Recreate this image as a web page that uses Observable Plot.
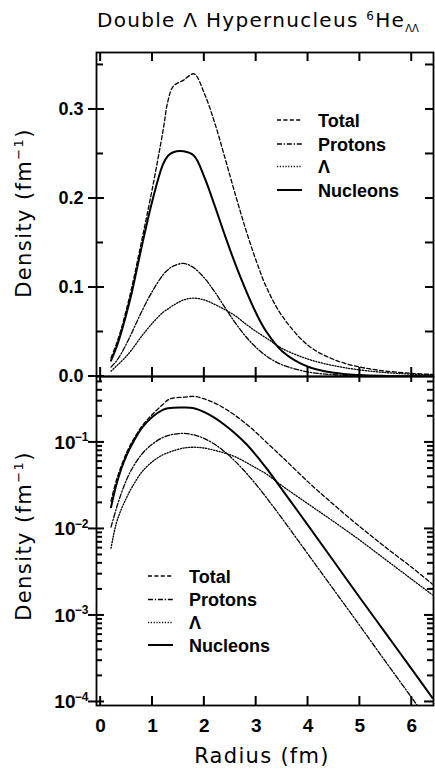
<!DOCTYPE html>
<html><head><meta charset="utf-8">
<script src="https://cdn.jsdelivr.net/npm/d3@7"></script>
<script src="https://cdn.jsdelivr.net/npm/@observablehq/plot@0.6"></script>
<style>
body{margin:0;background:#fff;}
#wrap{position:relative;width:435px;height:770px;overflow:hidden;background:#fff;}
#wrap > svg{position:absolute;left:0;}
</style></head>
<body><div id="wrap"></div>
<script>
// ---- data ----
const radius   = [0.2, 0.3, 0.4, 0.5, 0.6, 0.8, 1.0, 1.2, 1.3, 1.4, 1.6, 1.8, 2.0, 2.2, 2.4, 2.6, 2.8, 3.0, 3.2, 3.5, 4.0, 4.5, 5.0, 5.5, 6.0, 6.4];
const total    = [0.021, 0.036, 0.054, 0.076, 0.100, 0.155, 0.212, 0.275, 0.310, 0.326, 0.333, 0.340, 0.318, 0.285, 0.245, 0.204, 0.165, 0.130, 0.100, 0.068, 0.035, 0.0190, 0.0106, 0.0061, 0.0036, 0.0023];
const protons  = [0.0105, 0.017, 0.026, 0.037, 0.049, 0.074, 0.096, 0.114, 0.120, 0.124, 0.127, 0.122, 0.1107, 0.0951, 0.0773, 0.060, 0.0449, 0.0325, 0.0229, 0.0132, 0.0051, 0.00197, 0.00076, 0.00029, 0.000112, 0.000052];
const lambda   = [0.006, 0.0115, 0.017, 0.023, 0.030, 0.046, 0.060, 0.072, 0.076, 0.080, 0.086, 0.088, 0.086, 0.081, 0.075, 0.068, 0.059, 0.0505, 0.043, 0.0315, 0.0195, 0.0121, 0.0074, 0.0044, 0.00262, 0.00173];
const nucleons = [0.0178, 0.032, 0.050, 0.071, 0.094, 0.148, 0.198, 0.238, 0.248, 0.252, 0.253, 0.248, 0.224, 0.192, 0.158, 0.126, 0.097, 0.071, 0.050, 0.0285, 0.0110, 0.0042, 0.0016, 0.00062, 0.00024, 0.000111];
const seriesNames = ["Total", "Protons", "Λ", "Nucleons"];
const xTicks = [0, 1, 2, 3, 4, 5, 6];
const linearTicks = [0, 0.1, 0.2, 0.3];
const linearMinor = [0.05, 0.15, 0.25, 0.35];
const linearAll = [0.05, 0.1, 0.15, 0.2, 0.25, 0.3, 0.35];
const logTicks = [1e-1, 1e-2, 1e-3, 1e-4];
const logExponents = ["−1", "−2", "−3", "−4"];
const titleMain = "Double Λ Hypernucleus ";
const yLabel = "Density  (fm";
const xLabel = "Radius  (fm)";

// ---- build table ----
const valuesBySeries = {"Total": total, "Protons": protons, "Λ": lambda, "Nucleons": nucleons};
const rows = [];
for (const s of seriesNames) radius.forEach((r, i) => rows.push({s, r, v: valuesBySeries[s][i]}));
const styleOf = {
  "Total":    {dash: "4,2.4", w: 1.3},
  "Protons":  {dash: "5,1.8,1.3,1.8", w: 1.3},
  "Λ":        {dash: "1.2,1.6", w: 1.3},
  "Nucleons": {dash: "none", w: 2}
};
const lineMarks = () => seriesNames.map(s => Plot.line(rows.filter(d => d.s === s), {
  x: "r", y: "v", stroke: "black", strokeWidth: styleOf[s].w,
  strokeDasharray: styleOf[s].dash, curve: "catmull-rom", clip: true
}));

const FONT = "'Liberation Sans', Arial, sans-serif";
const xDomain = [-0.08, 6.42];

// ---- top (linear) panel ----
const topPlot = Plot.plot({
  width: 435, height: 395,
  marginTop: 52, marginBottom: 19, marginLeft: 96, marginRight: 2,
  style: {background: "transparent", fontFamily: FONT},
  x: {domain: xDomain, axis: null},
  y: {domain: [0, 0.364], axis: null},
  marks: [
    ...lineMarks(),
    Plot.axisY(linearTicks, {anchor: "left", tickSize: 0, tickPadding: 13, tickFormat: d3.format(".1f"),
      label: null, fontSize: 18, fontWeight: "bold", fill: "black"}),
    Plot.frame({stroke: "black", strokeWidth: 1.8})
  ]
});
topPlot.style.top = "0px";

// ---- bottom (log) panel ----
const logMinor = [];
for (let k = -5; k <= -1; k++) for (let m = 2; m <= 9; m++) {
  const v = m * Math.pow(10, k);
  if (v > 9.1e-5 && v < 0.578) logMinor.push(v);
}
const BOTTOM_TOP = 372;
const bottomPlot = Plot.plot({
  width: 435, height: 398,
  marginTop: 4, marginBottom: 65, marginLeft: 96, marginRight: 2,
  style: {background: "transparent", fontFamily: FONT},
  x: {domain: xDomain, axis: null},
  y: {type: "log", domain: [9.1e-5, 0.578], axis: null},
  marks: [
    ...lineMarks(),
    Plot.axisX(xTicks, {anchor: "bottom", tickSize: 0, tickPadding: 13, label: null,
      fontSize: 19, fontWeight: "bold", fill: "black"}),
    Plot.text(logTicks, {y: d => d, frameAnchor: "left", text: () => "10", textAnchor: "end",
      dx: -21, fontSize: 19, fontWeight: "bold", fill: "black"}),
    Plot.text(logTicks, {y: d => d, frameAnchor: "left", text: (d, i) => logExponents[i], textAnchor: "end",
      dx: -8, dy: -5, fontSize: 12, fontWeight: "bold", fill: "black"}),
    Plot.frame({stroke: "black", strokeWidth: 1.8})
  ]
});
bottomPlot.style.top = BOTTOM_TOP + "px";

const wrap = document.getElementById("wrap");
wrap.appendChild(topPlot);
wrap.appendChild(bottomPlot);

// ---- overlay: ticks (positioned with Plot's scales), title, axis labels, legends ----
const ov = d3.select(wrap).append("svg")
  .attr("width", 435).attr("height", 770).style("top", "0px").style("pointer-events", "none");

function drawTicks(plot, offY, spec) {
  const sx = plot.scale("x"), sy = plot.scale("y");
  const xl = Math.min(...sx.range), xr = Math.max(...sx.range);
  const yb = Math.max(...sy.range) + offY, yt = Math.min(...sy.range) + offY;
  const seg = (x1, y1, x2, y2) => ov.append("line")
    .attr("x1", x1).attr("y1", y1).attr("x2", x2).attr("y2", y2)
    .attr("stroke", "black").attr("stroke-width", 2);
  spec.leftCross.values.forEach(v => { const y = sy.apply(v) + offY; seg(xl - spec.leftCross.n, y, xl + spec.leftCross.n, y); });
  spec.left.forEach(({values, n}) => values.forEach(v => { const y = sy.apply(v) + offY; seg(xl, y, xl + n, y); }));
  spec.right.forEach(({values, n}) => values.forEach(v => { const y = sy.apply(v) + offY; seg(xr - n, y, xr, y); }));
  xTicks.forEach(v => { const x = sx.apply(v); seg(x, yt, x, yt + spec.top); seg(x, yb - spec.bottom, x, yb); });
}
drawTicks(topPlot, 0, {
  leftCross: {values: linearTicks, n: 8},
  left: [{values: linearMinor, n: 7}],
  right: [{values: linearAll, n: 8}],
  top: 9, bottom: 9
});
drawTicks(bottomPlot, BOTTOM_TOP, {
  leftCross: {values: logTicks, n: 8},
  left: [{values: logMinor, n: 6}],
  right: [{values: logTicks, n: 9}, {values: logMinor, n: 6}],
  top: 6, bottom: 9
});

const title = ov.append("text").attr("x", 97).attr("y", 27)
  .attr("font-family", "'DejaVu Sans', sans-serif").attr("font-size", 20).attr("letter-spacing", 1.3);
title.append("tspan").text(titleMain);
title.append("tspan").attr("font-size", 12).attr("dy", -7).text("6");
title.append("tspan").attr("dy", 7).text("He");
title.append("tspan").attr("font-size", 10).attr("letter-spacing", 0).attr("dy", 5).text("ΛΛ");

function densityLabel(cy) {
  const t = ov.append("text").attr("transform", `translate(31,${cy}) rotate(-90)`)
    .attr("text-anchor", "middle").attr("font-family", "'DejaVu Sans', sans-serif")
    .attr("font-size", 21).attr("letter-spacing", 1.4);
  t.append("tspan").text(yLabel);
  t.append("tspan").attr("font-size", 13).attr("dy", -8).text("−1");
  t.append("tspan").attr("dy", 8).text(")");
}
densityLabel(213);
densityLabel(536);

ov.append("text").attr("x", 262).attr("y", 763).attr("text-anchor", "middle")
  .attr("font-family", "'DejaVu Sans', sans-serif").attr("font-size", 21).attr("letter-spacing", 1.3)
  .text(xLabel);

function legend(x0, ys) {
  seriesNames.forEach((s, i) => {
    ov.append("line").attr("x1", x0).attr("x2", x0 + 25).attr("y1", ys[i]).attr("y2", ys[i])
      .attr("stroke", "black").attr("stroke-width", styleOf[s].w)
      .attr("stroke-dasharray", styleOf[s].dash === "none" ? null : styleOf[s].dash);
    ov.append("text").attr("x", x0 + 41).attr("y", ys[i] + 6.5)
      .attr("font-family", FONT).attr("font-weight", "bold").attr("font-size", 18).text(s);
  });
}
legend(277, [120, 144, 166.5, 190]);
legend(148, [576, 599.5, 622.5, 645]);
</script>
</body></html>
